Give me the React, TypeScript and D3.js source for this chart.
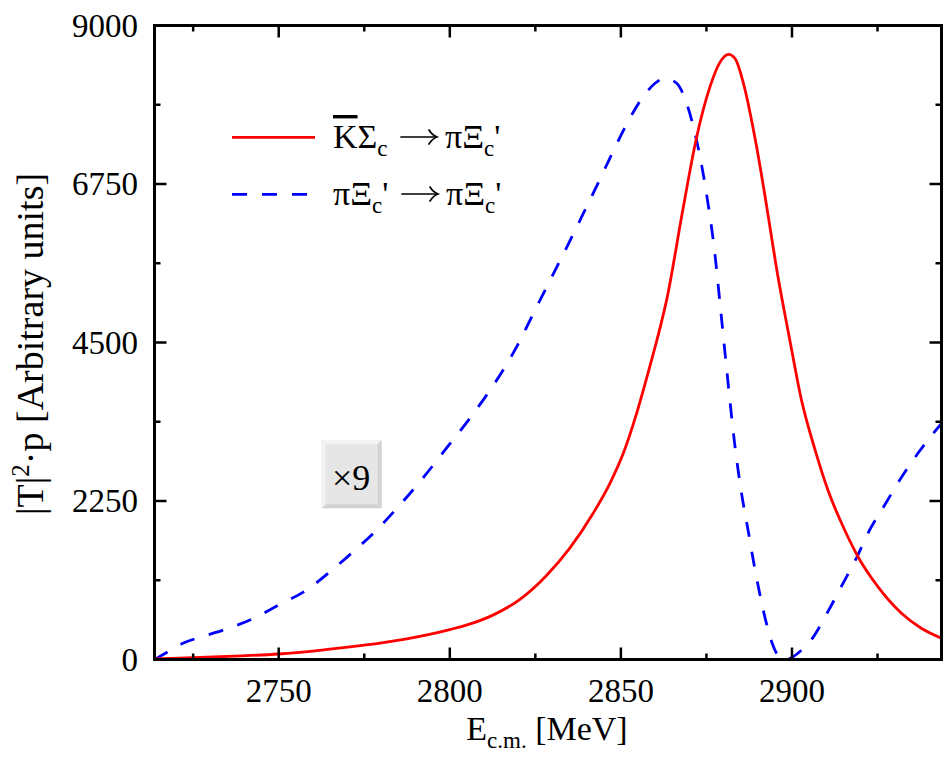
import React from "react";
import * as d3 from "d3";

// Energy grid and values
const redE = [2713.7, 2725, 2737, 2750, 2762, 2775, 2787, 2800, 2806, 2812.6, 2820.4, 2828.2, 2834.9, 2841.9, 2846.8, 2850.7, 2854.6, 2857.5, 2861.4, 2863.3, 2868.2, 2872.1, 2876, 2879, 2881.5, 2883.5, 2885.7, 2889.6, 2892.5, 2895.5, 2899.5, 2902.7, 2906.6, 2910.5, 2915.4, 2919.3, 2925.1, 2932, 2937.8, 2943.7];
const redV = [10, 25, 48, 78, 130, 203, 290, 425, 505, 630, 850, 1190, 1570, 2076, 2501, 2927, 3495, 3990, 4700, 5087, 6411, 7406, 8125, 8480, 8590, 8520, 8200, 7296, 6466, 5550, 4500, 3700, 3000, 2406, 1838, 1459, 1034, 656, 443, 301];

const blueE = [2713.7, 2718, 2722, 2728, 2733.9, 2741.6, 2750, 2758.2, 2765, 2771.8, 2778.6, 2785.4, 2792.2, 2800, 2805.8, 2810.7, 2815.6, 2820, 2824.8, 2830, 2836, 2840, 2843.9, 2847.8, 2851.7, 2856.5, 2860, 2862.8, 2866.3, 2869.2, 2872.1, 2875, 2877.5, 2878.9, 2880.4, 2881.8, 2883.3, 2885.2, 2887.2, 2889.1, 2890.6, 2892.5, 2894.3, 2895.7, 2897, 2898, 2900, 2902.5, 2905.6, 2910.5, 2914.4, 2918.8, 2922.7, 2927.1, 2931.5, 2936.8, 2943.7];
const blueV = [0, 120, 230, 330, 419, 561, 774, 987, 1247, 1531, 1838, 2193, 2580, 3060, 3420, 3750, 4110, 4480, 4950, 5450, 6030, 6430, 6820, 7220, 7600, 7990, 8180, 8251, 8180, 7896, 7375, 6618, 5748, 5087, 4368, 3705, 3042, 2379, 1827, 1300, 930, 520, 220, 70, 10, 0, 30, 120, 277, 679, 1034, 1437, 1838, 2193, 2548, 2927, 3353];

const xMajor = [2750, 2800, 2850, 2900];
const xMinor = [2725, 2775, 2825, 2875, 2925];
const yMajor = [0, 2250, 4500, 6750, 9000];
const yMinor = [1125, 3375, 5625, 7875];

const FONT = "'Liberation Serif', 'Times New Roman', serif";

function Arrow({ x0, x1, yy }: { x0: number; x1: number; yy: number }) {
  return (
    <g fill="none" stroke="#000" strokeWidth={1.7} strokeLinecap="round">
      <path d={`M${x0},${yy} H${x1 - 1}`} />
      <path d={`M${x1 - 8},${yy - 7} Q${x1 - 5},${yy - 2} ${x1},${yy} Q${x1 - 5},${yy + 2} ${x1 - 8},${yy + 7}`} />
    </g>
  );
}

export default function App() {
  const W = 947, H = 757;
  const L = 154.5, R = 941.5, T = 25.5, B = 659.5;
  const x = d3.scaleLinear().domain([2713.7, 2943.7]).range([L, R]);
  const y = d3.scaleLinear().domain([0, 9000]).range([B, T]);

  const line = d3
    .line<[number, number]>()
    .x((d) => x(d[0]))
    .y((d) => y(d[1]))
    .curve(d3.curveMonotoneX);

  const redPath = line(redE.map((e, i) => [e, redV[i]] as [number, number])) || "";
  const bluePath = line(blueE.map((e, i) => [e, blueV[i]] as [number, number])) || "";

  const majLen = 12, minLen = 6;

  return (
    <svg
      width={W}
      height={H}
      viewBox={`0 0 ${W} ${H}`}
      style={{ position: "absolute", left: 0, top: 0, background: "#fff" }}
      fontFamily={FONT}
    >
      <defs>
        <clipPath id="plotclip">
          <rect x={L} y={T} width={R - L} height={B - T} />
        </clipPath>
      </defs>

      {/* curves */}
      <g clipPath="url(#plotclip)">
        <path d={bluePath} fill="none" stroke="#0000ff" strokeWidth={2.8} strokeDasharray="15,15" />
        <path d={redPath} fill="none" stroke="#ff0000" strokeWidth={2.8} />
      </g>

      {/* ticks */}
      <g stroke="#000" strokeWidth={2.5}>
        {xMajor.map((v) => (
          <g key={"xM" + v}>
            <line x1={x(v)} x2={x(v)} y1={B} y2={B - majLen} />
            <line x1={x(v)} x2={x(v)} y1={T} y2={T + majLen} />
          </g>
        ))}
        {xMinor.map((v) => (
          <g key={"xm" + v}>
            <line x1={x(v)} x2={x(v)} y1={B} y2={B - minLen} />
            <line x1={x(v)} x2={x(v)} y1={T} y2={T + minLen} />
          </g>
        ))}
        {yMajor.map((v) => (
          <g key={"yM" + v}>
            <line x1={L} x2={L + majLen} y1={y(v)} y2={y(v)} />
            <line x1={R} x2={R - majLen} y1={y(v)} y2={y(v)} />
          </g>
        ))}
        {yMinor.map((v) => (
          <g key={"ym" + v}>
            <line x1={L} x2={L + minLen} y1={y(v)} y2={y(v)} />
            <line x1={R} x2={R - minLen} y1={y(v)} y2={y(v)} />
          </g>
        ))}
      </g>

      {/* frame */}
      <rect x={L} y={T} width={R - L} height={B - T} fill="none" stroke="#000" strokeWidth={3} />

      {/* tick labels */}
      <g fontSize={33} fill="#000">
        {xMajor.map((v) => (
          <text key={"xl" + v} x={x(v)} y={701.5} textAnchor="middle">
            {v}
          </text>
        ))}
        {yMajor.map((v) => (
          <text key={"yl" + v} x={138} y={y(v) + 11} textAnchor="end">
            {v}
          </text>
        ))}
      </g>

      {/* x axis label */}
      <text x={547} y={740} textAnchor="middle" fontSize={34} fill="#000">
        E
        <tspan fontSize={23} dy={8}>c.m.</tspan>
        <tspan dy={-8}> [MeV]</tspan>
      </text>

      {/* y axis label */}
      <text
        transform={`translate(43,344) rotate(-90)`}
        textAnchor="middle"
        fontSize={38}
        fill="#000"
      >
        |T|
        <tspan fontSize={25} dy={-14}>2</tspan>
        <tspan dy={14}>·p [Arbitrary units]</tspan>
      </text>

      {/* legend */}
      <line x1={232} x2={315} y1={137.3} y2={137.3} stroke="#ff0000" strokeWidth={2.8} />
      <text x={333} y={148} fontSize={34} fill="#000">
        <tspan style={{ textDecoration: "overline" }}>K</tspan>Σ
        <tspan fontSize={23} dy={8}>c</tspan>
      </text>
      <Arrow x0={401} x1={437} yy={137} />
      <text x={445} y={148} fontSize={34} fill="#000">
        πΞ
        <tspan fontSize={23} dy={8}>c</tspan>
        <tspan dy={-8}>'</tspan>
      </text>

      <line x1={232} x2={322} y1={194.3} y2={194.3} stroke="#0000ff" strokeWidth={2.8} strokeDasharray="15,15" />
      <text x={333} y={205} fontSize={34} fill="#000">
        πΞ
        <tspan fontSize={23} dy={8}>c</tspan>
        <tspan dy={-8}>'</tspan>
      </text>
      <Arrow x0={402} x1={438} yy={194} />
      <text x={446} y={205} fontSize={34} fill="#000">
        πΞ
        <tspan fontSize={23} dy={8}>c</tspan>
        <tspan dy={-8}>'</tspan>
      </text>

      {/* x9 button */}
      <g>
        <rect x={321.7} y={440} width={60} height={68.3} fill="#d2d2d2" />
        <polygon points="321.7,440 381.7,440 377.7,444 325.7,444 325.7,504.3 321.7,508.3" fill="#f3f3f3" />
        <rect x={325.7} y={444} width={52} height={60.3} fill="#e6e6e6" />
        <text x={351.2} y={490} textAnchor="middle" fontSize={36} fill="#000">
          ×9
        </text>
      </g>
    </svg>
  );
}
